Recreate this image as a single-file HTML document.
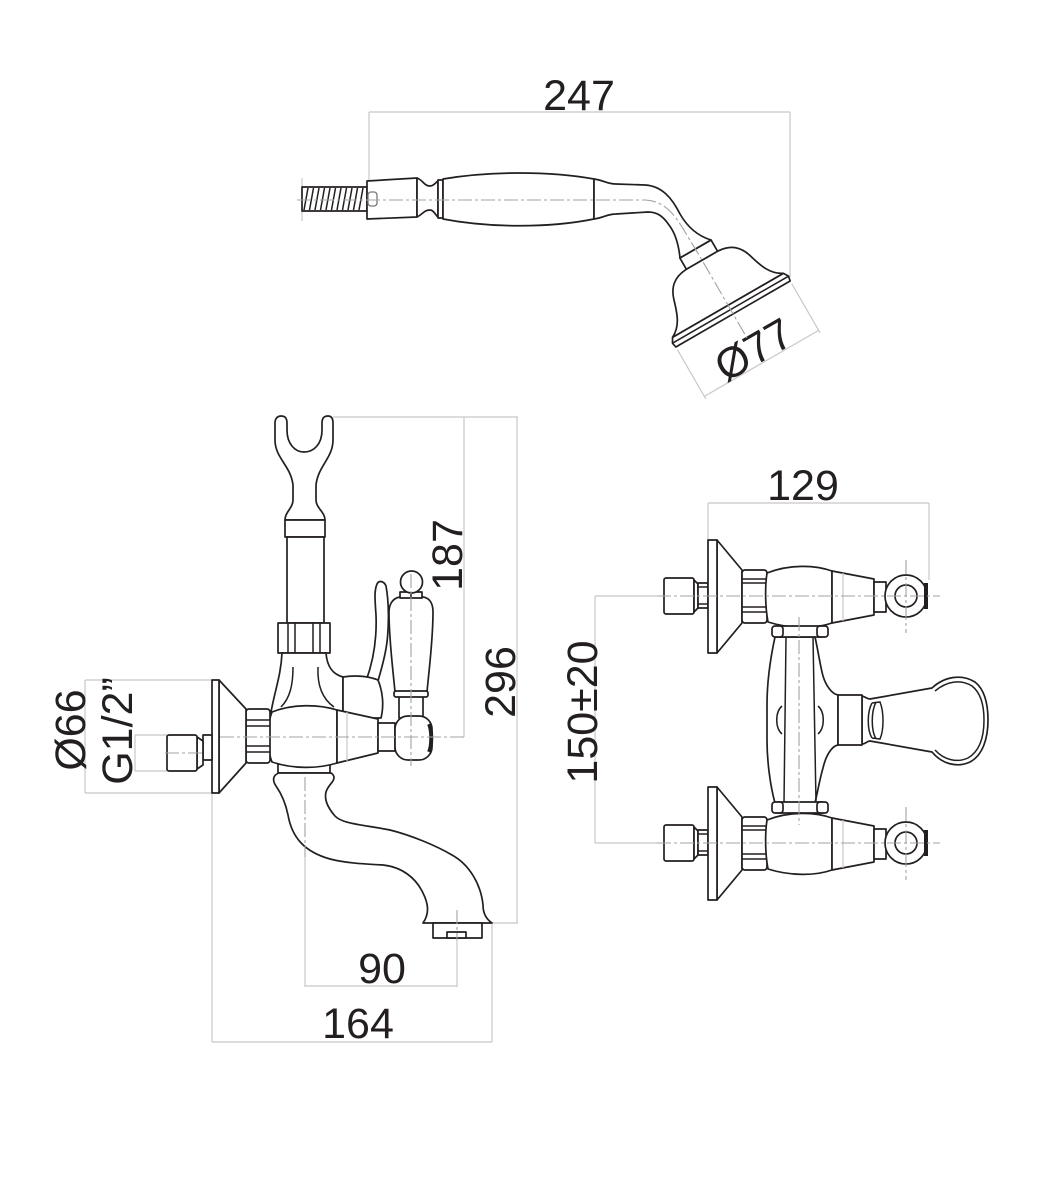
<!DOCTYPE html>
<html><head><meta charset="utf-8"><style>
html,body{margin:0;padding:0;background:#fff;}
svg{display:block}
.o{fill:#fff;stroke:#231f20;stroke-width:1.7;stroke-linejoin:round}
.l{fill:none;stroke:#231f20;stroke-width:1.5}
.d{fill:none;stroke:#c8c8c8;stroke-width:1.2}
.c{fill:none;stroke:#a3a3a3;stroke-width:1.1;stroke-dasharray:14 3 3 3}
text{font-family:"Liberation Sans",Arial,sans-serif;font-size:43px;fill:#231f20}
</style></head><body>
<svg width="1053" height="1197" viewBox="0 0 1053 1197" xmlns="http://www.w3.org/2000/svg">
<rect width="1053" height="1197" fill="#fff"/>

<!-- ================= HAND SHOWER ================= -->
<path class="d" d="M369,112 H790 M369,112 V180 M790,112 V277 M302,178 V221"/>
<text x="579" y="110" text-anchor="middle">247</text>

<rect class="o" x="302" y="187" width="65" height="24"/>
<path class="l" d="M308,188 L304,210 M313.5,188 L309.5,210 M319,188 L315,210 M324.5,188 L320.5,210 M330,188 L326,210 M335.5,188 L331.5,210 M341,188 L337,210 M346.5,188 L342.5,210 M352,188 L348,210 M357.5,188 L353.5,210 M363,188 L359,210"/>
<path class="o" d="M367,181 L417,178 L417,217 L367,219 Z"/>
<rect x="368" y="192" width="9" height="14" rx="3" fill="#fff" stroke="#777" stroke-width="1.3"/>
<path class="o" d="M417,178 C423,180 424,186 430,186 C434,186 436,182 438,181 L438,217 C436,216 434,210 430,210 C424,210 423,214 417,217 Z"/>
<rect class="o" x="438" y="180" width="5" height="38"/>
<path class="o" d="M443,179 C490,171 550,171 594,179 L594,219 C550,228 490,228 443,219 Z"/>
<path class="o" d="M594,179 C603,180 607,184 616,184 L645,185 C662,186 672,198 680,214 C688,228 698,236 711,240 L680,258 C679,248 676,234 669,225 C663,216 657,212 648,212 L616,214 C607,214 603,218 594,219 Z"/>
<g transform="translate(733,314) rotate(-30)">
  <rect class="o" x="-18" y="-75" width="36" height="13"/>
  <path class="o" d="M-19,-62 C-32,-61 -40,-55 -44,-42 C-48,-28 -52,-16 -64,-10 L64,-10 C52,-16 48,-28 44,-42 C40,-55 32,-61 19,-62 Z"/>
  <path class="o" d="M-64,-10 L64,-10 L67,-5 L66,0 L-66,0 L-67,-5 Z"/>
  <line class="l" x1="-67" y1="-5" x2="67" y2="-5"/>
  <path class="d" d="M-66,3 V60 M66,3 V60 M-66,57 H66"/>
  <text x="0" y="56" text-anchor="middle">Ø77</text>
</g>
<path class="c" d="M297,200 H645 C665,201 675,215 685,232 L699,255 L747,338"/>

<!-- ================= SIDE VIEW ================= -->
<path class="d" d="M333,417 H518 M517,417 V923 M492,923 H518 M464,417 V737
M85,680 H212 M85,793 H212 M85,680 V793
M135,735 H167 M135,771 H167 M135,735 V771
M305,857 V987 M457,940 V987 M305,986 H457
M212,793 V1042 M492,923 V1042 M212,1042 H492"/>
<text transform="translate(462,555) rotate(-90)" text-anchor="middle">187</text>
<text transform="translate(515,682) rotate(-90)" text-anchor="middle">296</text>
<text transform="translate(85,730) rotate(-90)" text-anchor="middle">Ø66</text>
<text transform="translate(132,731) rotate(-90)" text-anchor="middle">G1/2”</text>
<text x="382" y="983" text-anchor="middle">90</text>
<text x="358" y="1038" text-anchor="middle">164</text>

<!-- spout -->
<rect class="o" x="278" y="760" width="52" height="13"/>
<path class="o" d="M279,773 C273,775 272,780 276,786 C283,796 286,805 288,815 C292,838 305,852 330,859 C345,863 365,864 383,865 C402,867 416,878 423,893 C428,903 430,913 423,923 L492,923 C486,919 483,913 483,905 C481,885 470,865 452,855 C435,845 410,835 390,830 C365,825 342,824 335,816 C328,808 324,800 326,792 C328,785 334,782 334,778 C334,775 332,773 330,773 Z"/>
<rect class="o" x="433" y="923" width="49" height="15"/>
<rect class="o" x="447" y="932" width="19" height="6"/>

<!-- holder -->
<path class="o" d="M275,423 C275,418 278,416 281,416 C285,416 287,418 287,423 L287,430 C287,444 295,452 304,452 C314,452 322,444 322,430 L322,423 C322,418 324,416 328,416 C331,416 333,418 333,423 L333,440 C333,458 318,466 316,485 L316,500 C316,508 325,512 325,520 L285,520 C285,512 293,508 293,500 L293,485 C291,466 275,458 275,440 Z"/>
<rect class="o" x="285" y="520" width="40" height="17"/>
<rect class="o" x="287" y="537" width="37" height="86"/>
<rect class="o" x="278" y="623" width="52" height="30"/>
<path class="l" d="M288,623 V653 M295,623 V653 M313,623 V653 M320,623 V653"/>

<!-- diverter neck -->
<path class="o" d="M282,653 C281,675 275,690 271,712 L343,712 L343,677 C332,674 327,666 326,653 Z"/>
<path class="l" d="M293,667 C293,685 290,698 281,707 M318,667 C317,688 324,700 334,707"/>
<path class="o" d="M366,681 C373,662 377,640 376,615 C375,600 374,591 377,584 C379,580 384,581 386,586 C389,602 389,625 387,642 C385,658 381,670 378,681 Z"/>
<path class="o" d="M343,677 C355,675 368,676 378,680 C383,692 384,706 381,718 L343,718 Z"/>

<!-- barrel -->
<path class="o" d="M272,712 C292,704 318,704 337,710 L337,763 C318,769 292,769 272,762 C267,750 267,724 272,712 Z"/>
<path class="o" d="M337,710 L378,719 L378,753 L337,763 Z"/>
<path class="d" d="M347,712 V761"/>
<rect class="o" x="378" y="723" width="17" height="28"/>

<!-- lever handle -->
<rect class="o" x="399" y="696" width="24" height="22"/>
<rect class="o" x="395" y="716" width="37" height="44" rx="13"/>
<path d="M429,724 C432,730 432,746 429,752" stroke="#231f20" stroke-width="4" fill="none"/>
<path class="o" d="M400,597 L423,597 C430,598 433,604 433,612 C433,640 429,670 427,692 L395,692 C393,670 389,640 389,612 C389,604 393,598 400,597 Z"/>
<rect class="o" x="394" y="691" width="34" height="6" rx="2"/>
<rect class="o" x="400" y="592" width="22" height="6"/>
<line class="l" x1="411" y1="592" x2="411" y2="598"/>
<circle class="o" cx="411.5" cy="582" r="11"/>

<!-- wall connection -->
<rect class="o" x="246" y="709" width="24" height="54" rx="3"/>
<path class="l" d="M246,720 H270 M246,726 H270 M246,746 H270 M246,752 H270"/>
<path class="o" d="M219,680 L246,709 L246,763 L219,793 Z"/>
<rect class="o" x="212" y="680" width="7" height="113"/>
<rect class="o" x="203" y="735" width="9" height="25"/>
<path class="o" d="M197,737 L203,741 L203,765 L197,769 Z"/>
<rect class="o" x="167" y="735" width="30" height="36" rx="2"/>

<path class="c" d="M220,737 H464 M411,574 V766 M165,753 H202 M305,777 V857 M457,910 V940"/>

<!-- ================= FRONT VIEW ================= -->
<path class="d" d="M708,503 H929 M708,503 V540 M929,503 V580 M595,596 V843 M595,596 H657 M595,843 H657"/>
<text x="803" y="500" text-anchor="middle">129</text>
<text transform="translate(597,712) rotate(-90)" text-anchor="middle">150±20</text>

<!-- column -->
<path class="o" d="M775,637 C770,660 767,685 767,705 L767,740 C767,760 770,785 775,803 L815,803 C818,790 820,778 823,768 C826,755 832,746 838,745 L838,695 C832,694 826,686 823,676 C820,665 818,650 815,637 Z"/>
<path class="l" d="M786,637 L784,803 M813,637 L816,803 M782,706 C775,712 775,728 782,734 M818,706 C825,712 825,728 818,734"/>
<path class="o" d="M862,696 C866,697 867,699 870,699 L932,688 C945,676 962,674 975,682 C985,690 988,705 988,720 C988,738 983,755 970,762 C957,768 942,764 932,752 L870,741 C867,741 866,744 862,744 Z"/>
<path class="l" d="M935,691 C947,681 961,679 972,686 C981,693 984,706 984,720 C984,736 980,751 968,758 C957,763 944,760 935,750"/>
<rect class="o" x="838" y="695" width="24" height="50"/>
<path class="l" d="M872,703 C867,712 867,730 872,738 M876,702 C871,712 871,730 876,739 M872,703 L880,702 C884,712 884,730 880,739 L872,738"/>

<!-- valves -->
<g transform="translate(0,596)">
  <rect class="o" x="664" y="-18" width="30" height="36" rx="2"/>
  <path class="o" d="M694,-16 L698,-12 L698,12 L694,16 Z"/>
  <rect class="o" x="698" y="-13" width="10" height="25"/>
  <path class="l" d="M698,-9 H708 M698,8 H708"/>
  <path class="o" d="M717,-56 L742,-26 L742,27 L717,57 Z"/>
  <rect class="o" x="708" y="-56" width="9" height="113"/>
  <rect class="o" x="742" y="-26" width="25" height="53" rx="3"/>
  <path class="l" d="M742,-17 H767 M742,-13 H767 M742,11 H767 M742,16 H767"/>
  <path class="o" d="M767,-23 C790,-32 815,-31 832,-25 L832,27 C815,33 790,33 768,26 C765,10 765,-10 767,-23 Z"/>
  <path class="o" d="M832,-25 L874,-17 L874,19 L832,27 Z"/>
  <path class="d" d="M843,-23 V25"/>
  <rect class="o" x="874" y="-14" width="12" height="30"/>
  <circle class="o" cx="906" cy="0" r="21"/>
  <circle class="o" cx="906" cy="0" r="11"/>
  <rect x="924" y="-13" width="4" height="26" fill="#231f20"/>
</g>
<g transform="translate(0,843)">
  <rect class="o" x="664" y="-18" width="30" height="36" rx="2"/>
  <path class="o" d="M694,-16 L698,-12 L698,12 L694,16 Z"/>
  <rect class="o" x="698" y="-13" width="10" height="25"/>
  <path class="l" d="M698,-9 H708 M698,8 H708"/>
  <path class="o" d="M717,-56 L742,-26 L742,27 L717,57 Z"/>
  <rect class="o" x="708" y="-56" width="9" height="113"/>
  <rect class="o" x="742" y="-26" width="25" height="53" rx="3"/>
  <path class="l" d="M742,-17 H767 M742,-13 H767 M742,11 H767 M742,16 H767"/>
  <path class="o" d="M767,-23 C790,-32 815,-31 832,-25 L832,27 C815,33 790,33 768,26 C765,10 765,-10 767,-23 Z"/>
  <path class="o" d="M832,-25 L874,-17 L874,19 L832,27 Z"/>
  <path class="d" d="M843,-23 V25"/>
  <rect class="o" x="874" y="-14" width="12" height="30"/>
  <circle class="o" cx="906" cy="0" r="21"/>
  <circle class="o" cx="906" cy="0" r="11"/>
  <rect x="924" y="-13" width="4" height="26" fill="#231f20"/>
</g>

<!-- column rings -->
<rect class="o" x="778" y="626" width="44" height="11"/>
<rect class="o" x="772" y="626" width="11" height="11" rx="3"/>
<rect class="o" x="817" y="626" width="11" height="11" rx="3"/>
<rect class="o" x="778" y="802" width="44" height="11"/>
<rect class="o" x="772" y="802" width="11" height="11" rx="3"/>
<rect class="o" x="817" y="802" width="11" height="11" rx="3"/>

<path class="c" d="M657,596 H940 M657,843 H940 M906,560 V633 M906,807 V880 M799,617 V825"/>
</svg>
</body></html>
